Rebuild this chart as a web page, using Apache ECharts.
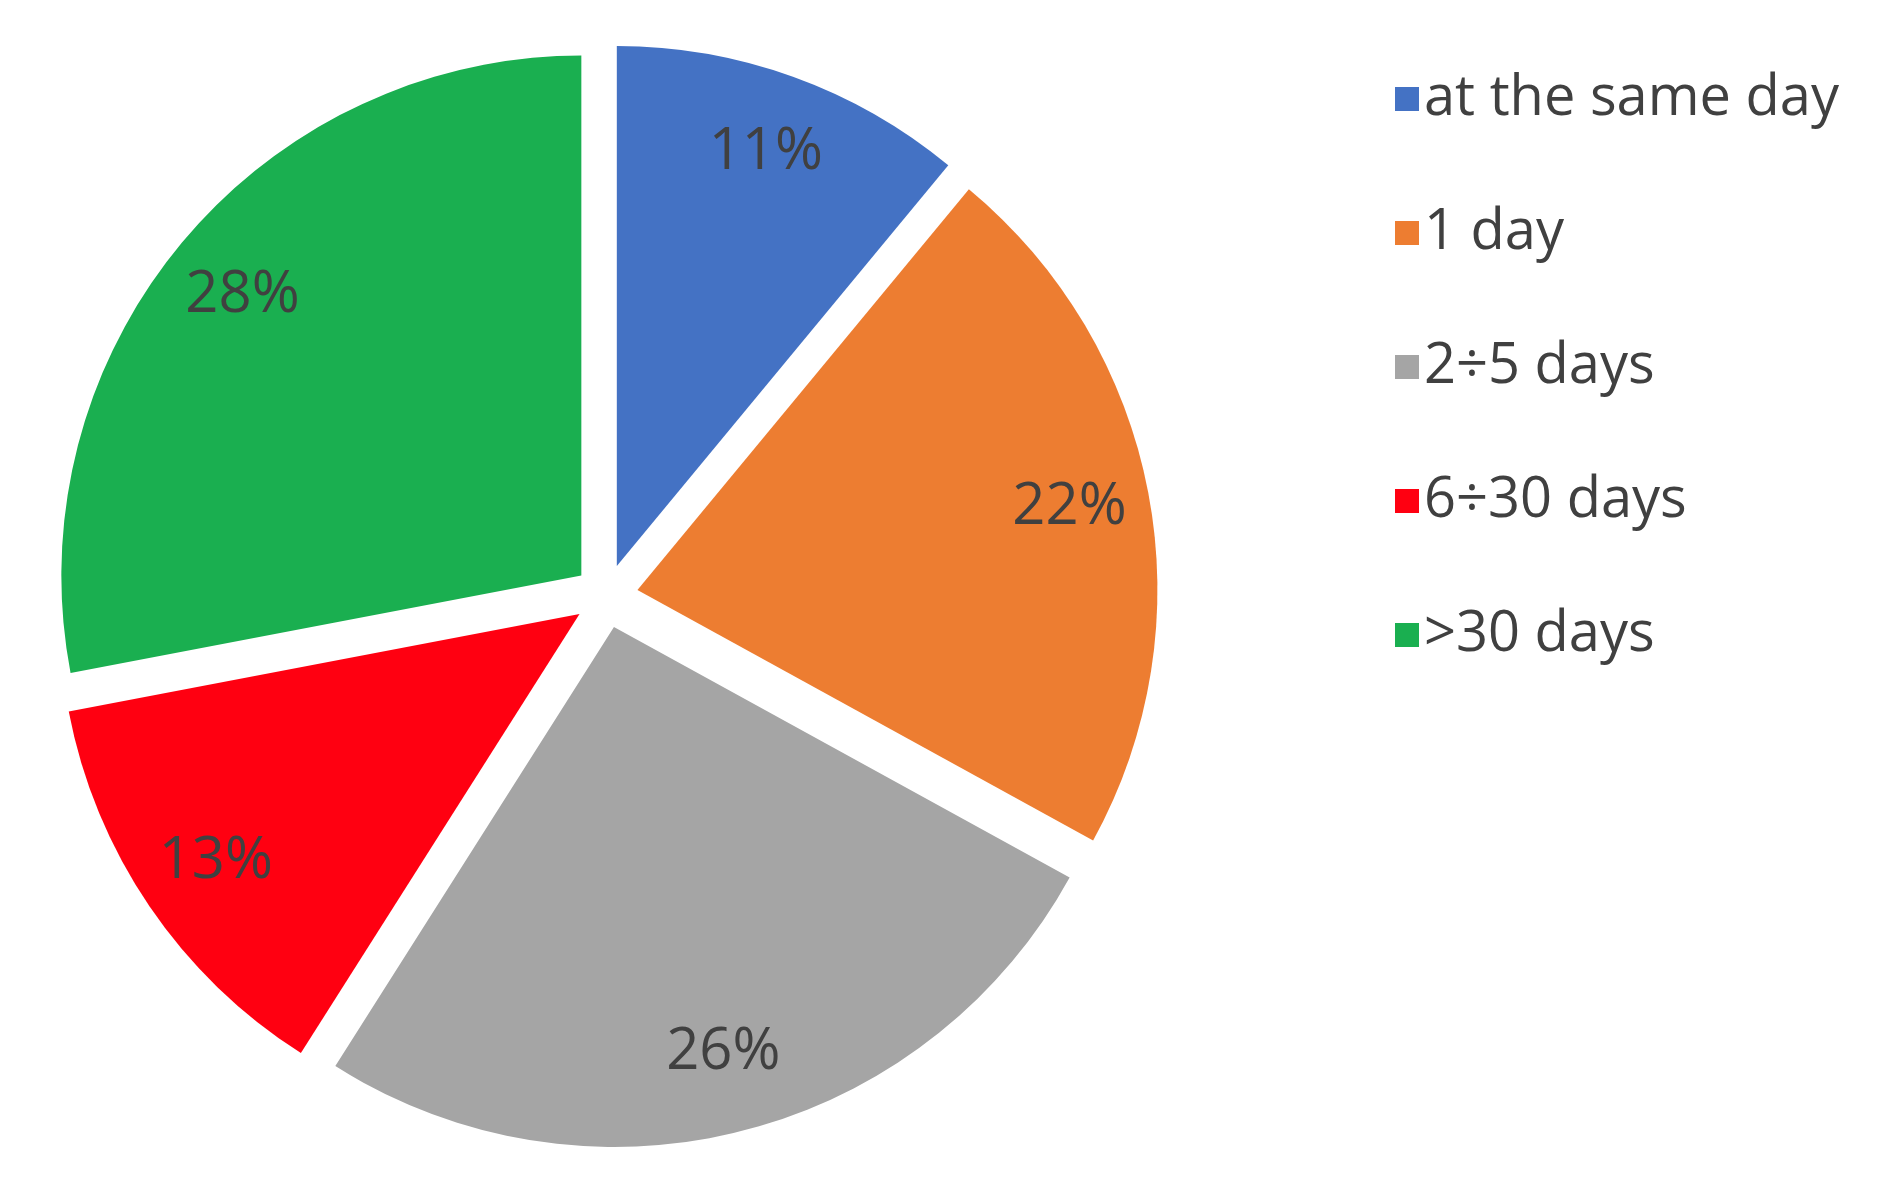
<!DOCTYPE html>
<html>
<head>
<meta charset="utf-8">
<script src="https://cdn.jsdelivr.net/npm/echarts@6/dist/echarts.min.js"></script>
<style>html,body{margin:0;padding:0;background:#fff}#chart{width:1901px;height:1179px}</style>
</head>
<body>
<div id="chart"></div>
<script>
'use strict';

var categories = ['at the same day', '1 day', '2\u00f75 days', '6\u00f730 days', '>30 days'];
var values = [11, 22, 26, 13, 28];
var colors = ['#4472C4', '#ED7D31', '#A5A5A5', '#FF0011', '#1AAF50'];

var chart = echarts.init(document.getElementById('chart'));
var center = [606, 596];
var radius = 520;
var offset = 32;

function buildData(showLabel) {
  return categories.map(function(name, i) {
    return { name: name, value: values[i], selected: true, itemStyle: { color: showLabel ? 'transparent' : colors[i] } };
  });
}

chart.setOption({
  animation: false,
  legend: {
    orient: 'vertical',
    left: 1390,
    top: 66,
    itemWidth: 24,
    itemHeight: 24,
    itemGap: 78,
    icon: 'rect',
    data: categories,
    textStyle: { fontSize: 56, color: '#404040', fontFamily: 'Open Sans' },
    selectedMode: false
  },
  series: [{
    type: 'pie',
    center: center,
    radius: [0, radius],
    startAngle: 90,
    clockwise: true,
    selectedMode: 'multiple',
    selectedOffset: offset,
    label: { show: false },
    labelLine: { show: false },
    emphasis: { disabled: true },
    data: buildData(false)
  }, {
    type: 'pie',
    center: center,
    radius: [radius * 0.68, radius],
    startAngle: 90,
    clockwise: true,
    selectedMode: 'multiple',
    selectedOffset: offset,
    silent: true,
    legendHoverLink: false,
    label: {
      show: true,
      position: 'inside',
      formatter: '{c}%',
      fontSize: 58,
      color: '#404040',
      fontFamily: 'Open Sans'
    },
    labelLine: { show: false },
    emphasis: { disabled: true },
    data: buildData(true)
  }]
});
</script>
</body>
</html>
